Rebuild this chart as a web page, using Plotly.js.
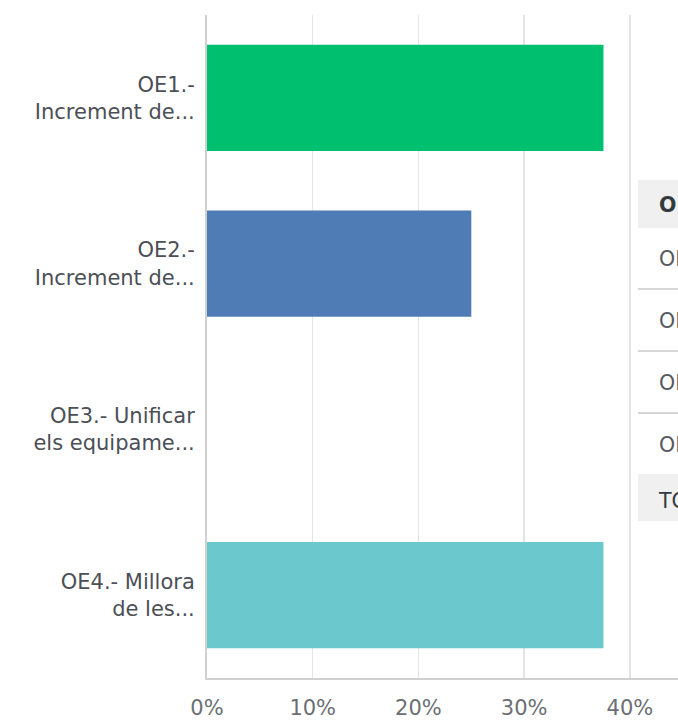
<!DOCTYPE html>
<html>
<head>
<meta charset="utf-8">
<script src="https://cdn.plot.ly/plotly-3.0.1.min.js"></script>
<style>
html,body{margin:0;padding:0;width:678px;height:722px;overflow:hidden;background:#fff;}
#chart{position:absolute;left:0;top:0;width:678px;height:722px;}
#tbl{position:absolute;left:638px;top:180px;width:600px;font-family:"DejaVu Sans",sans-serif;font-size:20.5px;color:#555a60;}
#tbl .hd{height:48px;line-height:50px;background:#f0f0f0;font-weight:bold;color:#333a40;padding-left:21px;white-space:nowrap;}
#tbl .row{height:60px;line-height:62px;padding-left:21px;white-space:nowrap;border-bottom:2px solid #d6d6d6;}
#tbl .row.last{border-bottom:none;}
#tbl .tot{height:47px;line-height:54px;background:#f0f0f0;padding-left:21px;white-space:nowrap;color:#333a40;}
</style>
</head>
<body>
<div id="chart"></div>
<div id="tbl"></div>
<script>
const categories = ["OE1.-<br>Increment de...", "OE2.-<br>Increment de...", "OE3.- Unificar<br>els equipame...", "OE4.- Millora<br>de les..."];
const values = [0.375, 0.25, 0, 0.375];
const colors = ["#00bf6f", "#507cb6", "#f9be00", "#6bc8cd"];
const tickVals = [0, 0.1, 0.2, 0.3, 0.4];
const tickText = ["0%", "10%", "20%", "30%", "40%"];
const tableHeader = "OPCIONS DE RESPOSTA";
const tableRows = ["OE1.- Increment de...", "OE2.- Increment de...", "OE3.- Unificar els equipame...", "OE4.- Millora de les..."];
const tableTotal = "TOTAL";

const trace = {
  type: "bar",
  orientation: "h",
  y: categories,
  x: values,
  marker: {color: colors},
  hoverinfo: "none"
};

const layout = {
  width: 678, height: 722,
  margin: {l: 207, r: 0, t: 15, b: 44, pad: 0},
  paper_bgcolor: "#fff", plot_bgcolor: "#fff",
  bargap: 0.36,
  showlegend: false,
  font: {family: "DejaVu Sans, sans-serif"},
  xaxis: {
    range: [0, 0.4455],
    tickvals: tickVals, ticktext: tickText,
    showgrid: true, gridcolor: "#e4e4e4", gridwidth: 1.5,
    zeroline: false,
    showline: true, linecolor: "#d0d0d0", linewidth: 2,
    ticks: "", ticklabelstandoff: 10,
    tickfont: {size: 21, color: "#6b6f74"},
    fixedrange: true
  },
  yaxis: {
    autorange: "reversed",
    showgrid: false, zeroline: false,
    showline: true, linecolor: "#d0d0d0", linewidth: 2,
    ticks: "", ticklabelstandoff: 6,
    tickfont: {size: 21, color: "#4b4f56"},
    fixedrange: true
  }
};

Plotly.newPlot("chart", [trace], layout, {displayModeBar: false, staticPlot: true});

const tbl = document.getElementById("tbl");
let html = '<div class="hd">' + tableHeader + '</div>';
tableRows.forEach((r, i) => {
  html += '<div class="row' + (i === tableRows.length - 1 ? ' last' : '') + '">' + r + '</div>';
});
html += '<div class="tot">' + tableTotal + '</div>';
tbl.innerHTML = html;
</script>
</body>
</html>
